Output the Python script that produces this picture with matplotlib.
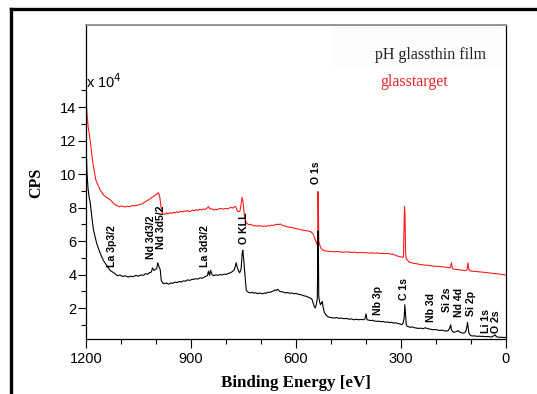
import matplotlib
matplotlib.use("Agg")
import matplotlib.pyplot as plt
from matplotlib.lines import Line2D
from matplotlib.patches import Rectangle

# thin film spectrum (black): (binding energy [eV], counts [x 10^4])
film = [(1200, 11.9), (1197, 10.0), (1194, 9.1), (1191, 8.6), (1188.6, 8.4), (1183.7, 7.5), (1179, 6.7),
        (1169.4, 5.85), (1160, 5.3), (1150.6, 4.85), (1140.9, 4.55), (1131.4, 4.25), (1117, 4.05), (1110, 3.92),
        (1103, 3.97), (1095, 3.88), (1088, 3.93), (1080, 3.85), (1072, 3.9), (1065, 3.87), (1058, 3.95),
        (1050, 3.9), (1043, 3.98), (1036, 3.95), (1030, 4.05), (1024, 4.02), (1018, 4.12), (1013, 4.15),
        (1010, 4.4), (1006, 4.25), (1002, 4.3), (998, 4.35), (995, 4.7), (992, 4.5), (988, 4.3), (985, 3.65),
        (981, 3.5), (976, 3.45), (970, 3.5), (964, 3.42), (958, 3.5), (952, 3.47), (946, 3.55), (940, 3.52),
        (934, 3.58), (928, 3.55), (922, 3.62), (916, 3.6), (910, 3.68), (904, 3.65), (898, 3.7), (892, 3.72),
        (886, 3.75), (880, 3.73), (874, 3.8), (868, 3.78), (862, 3.85), (857, 3.9), (853, 3.95), (850, 4.2),
        (847, 3.95), (844, 4.25), (840, 4.0), (835, 3.93), (829, 3.98), (823, 3.95), (817, 4.0), (811, 3.97),
        (805, 4.03), (799, 4.0), (793, 4.08), (787, 4.1), (782, 4.18), (777, 4.25), (774, 4.45), (771, 4.7),
        (768, 4.45), (765, 4.25), (761, 4.1), (757, 4.3), (754, 5.2), (752, 5.45), (749, 4.8), (746, 4.0),
        (742, 3.05), (739, 2.98), (735, 2.93), (730, 2.9), (725, 2.95), (720, 2.88), (715, 2.92), (710, 2.85),
        (705, 2.9), (700, 2.87), (695, 2.85), (690, 2.9), (685, 2.88), (680, 2.95), (675, 2.93), (670, 2.98),
        (665, 3.02), (660, 3.08), (656, 3.05), (652, 3.12), (647, 3.0), (642, 2.97), (636, 2.95), (630, 2.9),
        (624, 2.93), (618, 2.88), (612, 2.9), (606, 2.85), (600, 2.87), (594, 2.82), (588, 2.8), (582, 2.77),
        (576, 2.72), (570, 2.7), (565, 2.65), (560, 2.6), (555, 2.55), (551, 2.3), (548, 2.1), (545, 2.0),
        (542, 2.2), (539, 2.6), (537.5, 6.6), (536.5, 6.6), (535, 2.7), (533, 2.4), (530, 2.2), (527, 2.3),
        (525, 2.38), (522, 2.0), (519, 1.75), (515, 1.6), (510, 1.5), (505, 1.45), (498, 1.42), (491, 1.4),
        (484, 1.43), (477, 1.38), (470, 1.4), (463, 1.36), (456, 1.38), (449, 1.33), (442, 1.35), (435, 1.3),
        (428, 1.33), (421, 1.3), (414, 1.32), (408, 1.3), (403, 1.35), (400, 1.65), (397, 1.3), (393, 1.28),
        (387, 1.25), (381, 1.27), (375, 1.22), (369, 1.2), (363, 1.22), (357, 1.18), (351, 1.2), (345, 1.15),
        (339, 1.17), (333, 1.13), (327, 1.15), (321, 1.1), (315, 1.12), (309, 1.08), (303, 1.05), (298, 1.0),
        (294, 1.1), (291, 1.4), (289, 2.2), (287, 1.6), (285, 1.0), (282, 0.9), (278, 0.88), (273, 0.85),
        (267, 0.87), (261, 0.82), (255, 0.8), (249, 0.78), (243, 0.8), (237, 0.76), (231, 0.82), (225, 0.78),
        (219, 0.75), (213, 0.72), (207, 0.7), (201, 0.72), (195, 0.68), (189, 0.66), (183, 0.68), (177, 0.64),
        (171, 0.62), (165, 0.65), (161, 0.8), (158, 1.0), (156, 0.7), (153, 0.6), (149, 0.55), (145, 0.57),
        (141, 0.6), (137, 0.65), (134, 0.6), (131, 0.55), (127, 0.52), (123, 0.5), (119, 0.52), (115, 0.6),
        (112, 0.85), (110, 1.15), (108, 0.8), (106, 0.5), (103, 0.4), (100, 0.35), (96, 0.33), (91, 0.34),
        (86, 0.32), (81, 0.31), (76, 0.32), (71, 0.3), (66, 0.31), (61, 0.3), (56, 0.29), (51, 0.3), (46, 0.28),
        (41, 0.27), (36, 0.33), (31, 0.4), (28, 0.3), (25, 0.27), (21, 0.26), (16, 0.25), (11, 0.25), (6, 0.24),
        (0, 0.24)]

# glass target spectrum (red)
target = [(1200, 14.6), (1197, 13.6), (1194, 12.85), (1188, 12.0), (1180, 10.6), (1172, 9.65), (1160, 9.06),
          (1150, 8.75), (1141, 8.6), (1130, 8.45), (1117, 8.17), (1105, 8.05), (1097, 8.1), (1090, 8.03),
          (1082, 8.08), (1075, 8.05), (1068, 8.12), (1060, 8.1), (1052, 8.15), (1045, 8.18), (1038, 8.25),
          (1030, 8.35), (1022, 8.45), (1015, 8.55), (1008, 8.65), (1003, 8.72), (998, 8.8), (995, 8.88),
          (992, 8.85), (989, 8.6), (986, 8.1), (983, 7.7), (979, 7.62), (975, 7.6), (970, 7.68), (965, 7.62),
          (960, 7.7), (955, 7.65), (950, 7.72), (945, 7.68), (940, 7.75), (935, 7.7), (930, 7.78), (925, 7.74),
          (920, 7.8), (915, 7.77), (910, 7.82), (905, 7.75), (900, 7.8), (895, 7.85), (890, 7.8), (885, 7.88),
          (880, 7.83), (875, 7.9), (870, 7.86), (865, 7.92), (860, 7.88), (855, 7.95), (850, 8.05), (845, 7.9),
          (840, 7.93), (835, 7.85), (830, 7.9), (825, 7.87), (820, 7.92), (815, 7.95), (810, 7.9), (805, 7.93),
          (800, 7.95), (795, 7.92), (790, 7.98), (785, 8.0), (780, 7.97), (776, 8.05), (772, 8.05), (768, 7.8),
          (764, 7.75), (760, 7.8), (757, 8.2), (754, 8.6), (751, 8.3), (748, 7.6), (745, 7.25), (742, 7.1),
          (738, 7.02), (734, 6.97), (730, 7.0), (725, 6.95), (720, 6.9), (715, 6.93), (710, 6.88), (705, 6.92),
          (700, 6.9), (695, 6.87), (690, 6.9), (685, 6.88), (680, 6.92), (675, 6.9), (670, 6.95), (665, 6.93),
          (660, 6.97), (655, 7.0), (650, 6.98), (645, 7.02), (640, 6.95), (632, 6.9), (625, 6.85), (617, 6.82),
          (610, 6.8), (602, 6.75), (595, 6.72), (587, 6.68), (580, 6.65), (572, 6.62), (565, 6.6), (558, 6.55),
          (552, 6.45), (547, 6.2), (543, 5.95), (540, 5.8), (538, 6.1), (537.5, 8.95), (536.5, 8.95), (535, 6.0),
          (532, 5.75), (528, 5.55), (524, 5.47), (519, 5.42), (512, 5.4), (505, 5.38), (497, 5.37), (489, 5.36),
          (481, 5.38), (473, 5.35), (465, 5.33), (457, 5.35), (449, 5.34), (441, 5.32), (433, 5.34), (425, 5.3),
          (417, 5.32), (409, 5.3), (401, 5.31), (393, 5.28), (385, 5.3), (377, 5.27), (369, 5.29), (361, 5.26),
          (353, 5.27), (345, 5.25), (337, 5.26), (329, 5.22), (321, 5.2), (313, 5.12), (306, 5.08), (300, 5.05),
          (296, 5.03), (293, 5.05), (291.5, 6.5), (290, 8.05), (288.5, 7.6), (287, 5.3), (285, 4.95), (282, 4.87),
          (277, 4.75), (270, 4.7), (262, 4.66), (254, 4.64), (246, 4.6), (238, 4.58), (230, 4.56), (222, 4.55),
          (214, 4.52), (206, 4.5), (198, 4.49), (190, 4.48), (182, 4.46), (175, 4.45), (168, 4.42), (162, 4.4),
          (158, 4.45), (156, 4.7), (153, 4.35), (148, 4.32), (142, 4.3), (135, 4.28), (128, 4.27), (121, 4.25),
          (115, 4.23), (111, 4.3), (109, 4.7), (107, 4.4), (104, 4.23), (98, 4.2), (91, 4.19), (84, 4.18),
          (77, 4.16), (70, 4.15), (63, 4.13), (56, 4.12), (49, 4.1), (42, 4.08), (35, 4.06), (28, 4.05),
          (21, 4.03), (14, 4.01), (7, 3.99), (0, 3.97)]

# peak labels
peak_names = ["La 3p3/2", "Nd 3d3/2", "Nd 3d5/2", "La 3d3/2", "O KLL", "O 1s", "Nb 3p", "C 1s", "Nb 3d",
              "Si 2s", "Nd 4d", "Si 2p", "Li 1s", "O 2s"]
peak_be = [1126, 1014, 985, 860, 748, 543, 366, 291, 214, 169, 134, 100, 57, 29]
peak_y = [4.45, 4.9, 5.55, 4.45, 5.8, 9.4, 1.58, 2.45, 1.16, 1.76, 1.46, 1.52, 0.5, 0.5]

film_be = [p[0] for p in film]
film_cps = [p[1] for p in film]
target_be = [p[0] for p in target]
target_cps = [p[1] for p in target]

fig = plt.figure(figsize=(5.37, 3.94), dpi=100)
ax = fig.add_axes([86 / 537, 1 - 339 / 394, 420 / 537, 314 / 394])

ax.plot(target_be, target_cps, color="#ff1a1a", lw=0.8)
ax.plot(film_be, film_cps, color="black", lw=0.8)

for i in range(len(peak_names)):
    ax.text(peak_be[i], peak_y[i], peak_names[i], rotation=90, ha="center", va="bottom",
            fontsize=7.6, fontweight="bold", family="Liberation Sans")

ax.set_xlim(1200, 0)
ax.set_ylim(0.15, 18.9)
ax.set_xticks([1200, 900, 600, 300, 0])
ax.set_xticks([1100, 1000, 800, 700, 500, 400, 200, 100], minor=True)
ax.set_yticks([2, 4, 6, 8, 10, 12, 14])
ax.set_yticks([1, 3, 5, 7, 9, 11, 13, 15], minor=True)

for lab in ax.get_xticklabels() + ax.get_yticklabels():
    lab.set_family("Liberation Sans")
    lab.set_fontsize(10.5)

ax.tick_params(axis="x", which="major", direction="out", length=6.5, width=0.8, pad=3, top=False)
ax.tick_params(axis="x", which="minor", direction="out", length=3.5, width=0.8, top=False)
ax.tick_params(axis="y", which="major", direction="out", length=6, width=0.8, pad=1, right=False)
ax.tick_params(axis="y", which="minor", direction="out", length=3.5, width=0.8, right=False)

ax.spines["top"].set_color("#8c8c8c")
ax.spines["top"].set_linewidth(1.3)
ax.spines["right"].set_linewidth(0.9)
ax.spines["left"].set_linewidth(0.9)
ax.spines["bottom"].set_linewidth(0.9)

ax.text(0, 0.80, r"x 10$^4$", transform=ax.transAxes, fontsize=10.5, family="Liberation Sans",
        ha="left", va="baseline")

# legend texts
ax.add_patch(Rectangle((247 / 420, (339 - 67) / 314), 170 / 420, 42 / 314, transform=ax.transAxes,
                       facecolor="#fcfcfc", edgecolor="none", zorder=0))
fig.text(375 / 537, 1 - 55 / 394, "pH glassthin film", fontsize=11.5, family="Liberation Serif",
         color="#222222", ha="left", va="center")
fig.text(380 / 537, 1 - 82 / 394, "glasstarget", fontsize=11.5, family="Liberation Serif",
         color="#e8262a", ha="left", va="center")

fig.text(296 / 537, 1 - 383 / 394, "Binding Energy [eV]", fontsize=12.2, family="Liberation Serif",
         fontweight="bold", ha="center", va="center")
fig.text(36 / 537, 1 - 183 / 394, "CPS", fontsize=11.5, family="Liberation Serif", fontweight="bold",
         rotation=90, ha="center", va="center")

# outer frame of the screenshot
fig.add_artist(Line2D([11 / 537, 11 / 537], [0, 1 - 9 / 394], transform=fig.transFigure, color="black", lw=2.4))
fig.add_artist(Line2D([11 / 537, 1], [1 - 9 / 394, 1 - 9 / 394], transform=fig.transFigure, color="black", lw=2.4))

fig.savefig("out.png", dpi=100)
